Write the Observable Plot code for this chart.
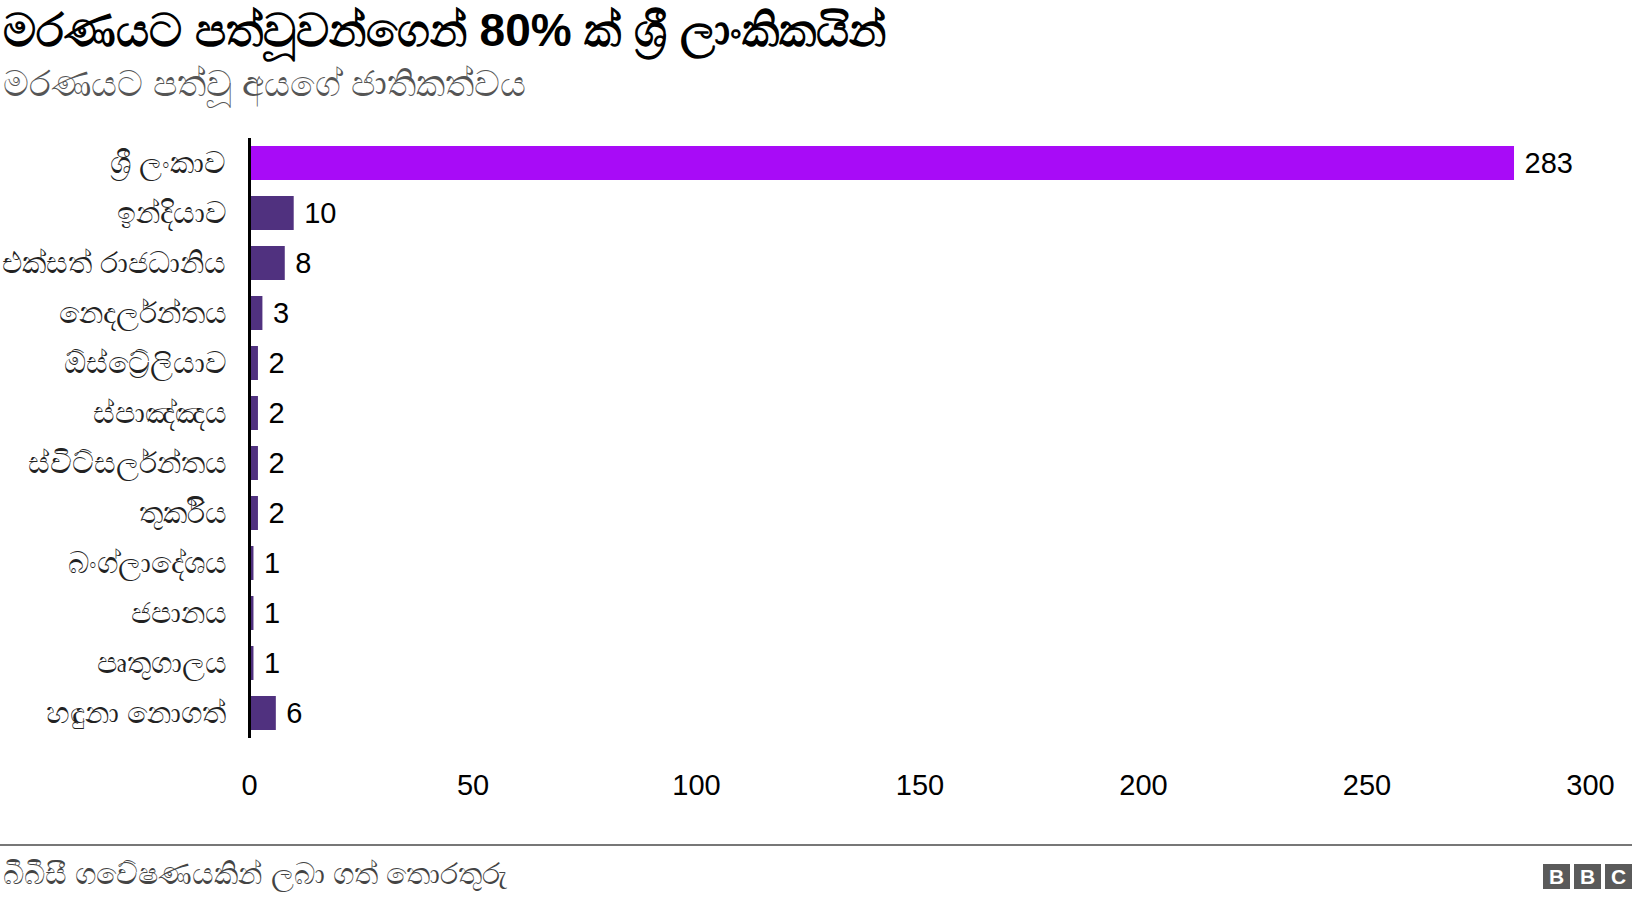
<!DOCTYPE html>
<html>
<head>
<meta charset="utf-8">
<script src="https://cdn.jsdelivr.net/npm/d3@7"></script>
<script src="https://cdn.jsdelivr.net/npm/@observablehq/plot@0.6"></script>
<style>
  html, body { margin: 0; padding: 0; background: #fff; }
  body { width: 1632px; height: 900px; position: relative; overflow: hidden; font-family: "Liberation Sans", Arial, sans-serif; }
  #title { position: absolute; left: 3px; top: 7px; font-size: 46px; line-height: 1; font-weight: bold; color: #000; white-space: nowrap; }
  #subtitle { position: absolute; left: 3px; top: 66px; font-size: 36px; line-height: 1; color: #555; white-space: nowrap; }
  #chart { position: absolute; left: 0; top: 110px; }
  #rule { position: absolute; left: 0; top: 844px; width: 1632px; height: 2px; background: #777; }
  #source { position: absolute; left: 3px; top: 859px; font-size: 30px; line-height: 1; color: #444; white-space: nowrap; }
  #logo { position: absolute; right: 0; top: 864px; display: flex; gap: 4px; }
  #logo div { width: 27px; height: 25px; background: #5a5a5a; color: #fff; font-weight: bold; font-size: 21px; line-height: 25px; text-align: center; font-family: "Liberation Sans", Arial, sans-serif; }
</style>
</head>
<body>
<div id="title"></div>
<div id="subtitle"></div>
<div id="chart"></div>
<div id="rule"></div>
<div id="source"></div>
<div id="logo"><div>B</div><div>B</div><div>C</div></div>
<script>
const titleText = "\u0db8\u0dbb\u0dab\u0dba\u0da7 \u0db4\u0dad\u0dca\u0dc0\u0dd6\u0dc0\u0db1\u0dca\u0d9c\u0dd9\u0db1\u0dca 80% \u0d9a\u0dca \u0dc1\u0dca\u200d\u0dbb\u0dd3 \u0dbd\u0dcf\u0d82\u0d9a\u0dd2\u0d9a\u0dba\u0dd2\u0db1\u0dca";
const subtitleText = "\u0db8\u0dbb\u0dab\u0dba\u0da7 \u0db4\u0dad\u0dca\u0dc0\u0dd6 \u0d85\u0dba\u0d9c\u0dda \u0da2\u0dcf\u0dad\u0dd2\u0d9a\u0dad\u0dca\u0dc0\u0dba";
const sourceText = "\u0db6\u0dd3\u0db6\u0dd3\u0dc3\u0dd3 \u0d9c\u0dc0\u0dda\u0dc2\u0dab\u0dba\u0d9a\u0dd2\u0db1\u0dca \u0dbd\u0db6\u0dcf \u0d9c\u0dad\u0dca \u0dad\u0ddc\u0dbb\u0dad\u0dd4\u0dbb\u0dd4";

const countries = [
  "\u0dc1\u0dca\u200d\u0dbb\u0dd3 \u0dbd\u0d82\u0d9a\u0dcf\u0dc0",
  "\u0d89\u0db1\u0dca\u0daf\u0dd2\u0dba\u0dcf\u0dc0",
  "\u0d91\u0d9a\u0dca\u0dc3\u0dad\u0dca \u0dbb\u0dcf\u0da2\u0db0\u0dcf\u0db1\u0dd2\u0dba",
  "\u0db1\u0dd9\u0daf\u0dbb\u0dca\u0dbd\u0db1\u0dca\u0dad\u0dba",
  "\u0d95\u0dc3\u0dca\u0da7\u0dca\u200d\u0dbb\u0dda\u0dbd\u0dd2\u0dba\u0dcf\u0dc0",
  "\u0dc3\u0dca\u0db4\u0dcf\u0da4\u0dca\u0da4\u0dba",
  "\u0dc3\u0dca\u0dc0\u0dd2\u0da7\u0dca\u0dc3\u0dbb\u0dca\u0dbd\u0db1\u0dca\u0dad\u0dba",
  "\u0dad\u0dd4\u0dbb\u0dca\u0d9a\u0dd2\u0dba",
  "\u0db6\u0d82\u0d9c\u0dca\u0dbd\u0dcf\u0daf\u0dda\u0dc1\u0dba",
  "\u0da2\u0db4\u0dcf\u0db1\u0dba",
  "\u0db4\u0dd8\u0dad\u0dd4\u0d9c\u0dcf\u0dbd\u0dba",
  "\u0dc4\u0db3\u0dd4\u0db1\u0dcf \u0db1\u0ddc\u0d9c\u0dad\u0dca"
];
const deaths = [283, 10, 8, 3, 2, 2, 2, 2, 1, 1, 1, 6];
const xTicks = [0, 50, 100, 150, 200, 250, 300];
const highlightColor = "#a80bf7";
const baseColor = "#50317f";

document.getElementById("title").textContent = titleText;
document.getElementById("subtitle").textContent = subtitleText;
document.getElementById("source").textContent = sourceText;

const data = countries.map((c, i) => ({country: c, value: deaths[i], highlight: i === 0}));

const chart = Plot.plot({
  width: 1632,
  height: 720,
  marginLeft: 249,
  marginRight: 42,
  marginTop: 28,
  marginBottom: 92,
  style: {fontFamily: "'Liberation Sans', Arial, sans-serif", background: "#fff"},
  x: {domain: [0, 300], ticks: xTicks, axis: null, label: null},
  y: {domain: countries, paddingInner: 0.32, paddingOuter: 0.16, axis: null, label: null},
  marks: [
    Plot.barX(data, {x: "value", y: "country", fill: d => d.highlight ? highlightColor : baseColor}),
    Plot.ruleX([0], {stroke: "#000", strokeWidth: 3}),
    Plot.text(data, {x: "value", y: "country", text: d => String(d.value), dx: 10, textAnchor: "start", fontSize: 29, fill: "#000"}),
    Plot.axisX({ticks: xTicks, tickSize: 0, tickPadding: 36, fontSize: 29, color: "#000", label: null, tickFormat: d => String(d)}),
    Plot.axisY({tickSize: 0, tickPadding: 23, fontSize: 30, color: "#222", label: null})
  ]
});
document.getElementById("chart").appendChild(chart);
</script>
</body>
</html>
